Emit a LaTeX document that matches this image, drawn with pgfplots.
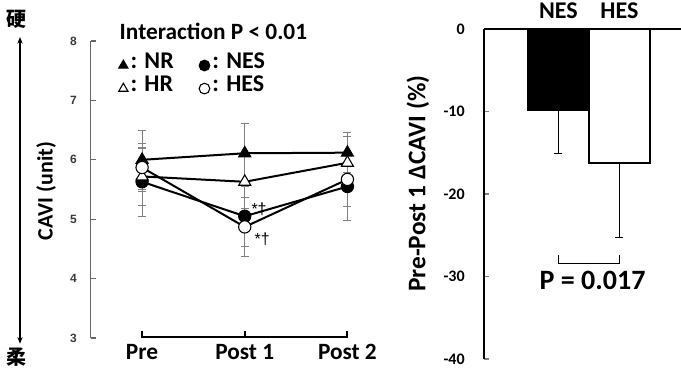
\documentclass[border=0pt]{standalone}
\usepackage{fontspec}
\setmainfont{Carlito}
\newfontfamily\arialfont{Liberation Sans}
\newfontfamily\cjk{Noto Sans CJK JP}
\usepackage{pgfplots}
\pgfplotsset{compat=1.18}
\usetikzlibrary{arrows.meta}
\begin{document}
\begin{tikzpicture}
\useasboundingbox (0,0) rectangle (510.75pt,276.75pt);
% left-side annotations
\node[font=\cjk\bfseries\fontsize{15}{15}\selectfont] at (12.75pt,262pt) {硬};
\node[font=\cjk\bfseries\fontsize{15}{15}\selectfont] at (12.75pt,9pt) {柔};
\draw[line width=1.2pt,-{Stealth[length=5pt,width=4pt]}] (15pt,140pt) -- (15pt,249pt);
\draw[line width=1.2pt,-{Stealth[length=5pt,width=4pt]}] (15pt,140pt) -- (15pt,19pt);
\node[rotate=90,font=\bfseries\fontsize{16.5}{16.5}\selectfont] at (34.5pt,133.5pt) {CAVI (unit)};
\node[anchor=base west,font=\bfseries\fontsize{17.5}{17.5}\selectfont] at (86.25pt,247.5pt) {Interaction P < 0.01};
\node[rotate=90,font=\bfseries\fontsize{19}{19}\selectfont] at (313.5pt,139pt) {Pre-Post 1 ΔCAVI (\%)};

\begin{axis}[
  at={(68.06pt,23.25pt)}, anchor=south west, scale only axis,
  width=231pt, height=222.75pt,
  xmin=0.5, xmax=3.5, ymin=3, ymax=8,
  axis y line=left, axis x line=bottom,
  x axis line style={draw=none},
  y axis line style={-, draw=gray!80!black, line width=0.8pt},
  xtick={1,2,3}, xticklabels={Pre,Post 1,Post 2},
  major x tick style={draw=none},
  ytick={3,4,5,6,7,8}, tick align=inside,
  /pgf/number format/assume math mode=true,
  major y tick style={draw=gray!80!black, line width=0.8pt}, major tick length=4pt,
  yticklabel style={font=\arialfont\bfseries\fontsize{9}{9}\selectfont, text=gray!45!black, xshift=-7pt},
  xticklabel style={font=\bfseries\fontsize{17.5}{17.5}\selectfont, yshift=-1pt},
  clip=false,
  legend columns=2,
  legend cell align=left,
  legend style={at={(0.09,0.97)}, anchor=north west, draw=none, fill=none,
    font=\bfseries\fontsize{18}{18}\selectfont,
    /tikz/every even column/.append style={column sep=17pt},
    row sep=0pt, inner sep=0pt},
  legend image code/.code={\draw[#1, mark size=4pt] plot coordinates {(0cm,-0.1cm)};},
  every axis plot/.append style={line width=1.5pt},
  error bars/error bar style={gray, line width=0.6pt},
  error bars/error mark options={rotate=90, gray, mark size=3pt, line width=0.6pt},
]
\addplot[black, mark=triangle*, mark size=5.2pt, mark options={fill=black, line width=0.8pt},
  error bars/.cd, y dir=both, y explicit]
  coordinates {(1,6.00) +- (0,0.50) (2,6.11) +- (0,0.51) (3,6.12) +- (0,0.34)};
\addlegendentry{: NR}
\addplot[black, mark=*, mark size=4.6pt, mark options={fill=black, line width=0.8pt},
  error bars/.cd, y dir=both, y explicit]
  coordinates {(1,5.63) +- (0,0.58) (2,5.05) +- (0,0.50) (3,5.55) +- (0,0.57)};
\addlegendentry{: NES}
\addplot[black, mark=triangle*, mark size=5.2pt, mark options={fill=white, line width=0.8pt},
  error bars/.cd, y dir=both, y explicit]
  coordinates {(1,5.72) +- (0,0.48) (2,5.63) +- (0,0.45) (3,5.95) +- (0,0.45)};
\addlegendentry{: HR}
\addplot[black, mark=*, mark size=4.6pt, mark options={fill=white, line width=0.8pt},
  error bars/.cd, y dir=both, y explicit]
  coordinates {(1,5.87) +- (0,0.40) (2,4.87) +- (0,0.50) (3,5.67) +- (0,0.45)};
\addlegendentry{: HES}
\draw[line width=1.5pt] (axis cs:1,3.12) -- (axis cs:1,3.02) -- (axis cs:3,3.02) -- (axis cs:3,3.12);
\draw[line width=1.5pt] (axis cs:2,3.02) -- (axis cs:2,3.12);
\node[anchor=west,font=\arialfont\fontsize{12}{12}\selectfont] at (axis cs:2.02,5.17) {*†};
\node[anchor=west,font=\arialfont\fontsize{12}{12}\selectfont] at (axis cs:2.05,4.66) {*†};
\end{axis}

\begin{axis}[
  at={(363pt,7.5pt)}, anchor=south west, scale only axis,
  width=147.75pt, height=247.5pt,
  xmin=-0.221, xmax=3.01, ymin=-40, ymax=0,
  axis y line=left, axis x line=top,
  axis line style={-, line width=1pt},
  xtick=\empty, ytick={-40,-30,-20,-10,0}, tick align=inside,
  /pgf/number format/assume math mode=true,
  major tick length=4pt, major tick style={line width=1pt},
  yticklabel style={font=\bfseries\fontsize{12}{12}\selectfont, xshift=-11pt},
  ybar, clip=false,
]
\addplot[bar width=45.75pt, bar shift=0pt, fill=black, draw=black, line width=1pt,
  error bars/.cd, y dir=minus, y explicit,
  error bar style={black, line width=0.8pt},
  error mark options={rotate=90, black, mark size=3pt, line width=0.8pt}]
  coordinates {(1,-9.8) +- (0,5.3)};
\addplot[bar width=45.75pt, bar shift=0pt, fill=white, draw=black, line width=1.5pt,
  error bars/.cd, y dir=minus, y explicit,
  error bar style={black, line width=0.8pt},
  error mark options={rotate=90, black, mark size=3pt, line width=0.8pt}]
  coordinates {(2,-16.3) +- (0,9.0)};
\node[anchor=base,font=\bfseries\fontsize{18}{18}\selectfont] at (axis cs:1,1.3) {NES};
\node[anchor=base,font=\bfseries\fontsize{18}{18}\selectfont] at (axis cs:2,1.3) {HES};
\draw[line width=1pt] (axis cs:1,-27.4) -- (axis cs:1,-28.4) -- (axis cs:2,-28.4) -- (axis cs:2,-27.4);
\node[anchor=base,font=\bfseries\fontsize{21}{21}\selectfont] at (axis cs:1.56,-31.6) {P = 0.017};
\end{axis}
\end{tikzpicture}
\end{document}
